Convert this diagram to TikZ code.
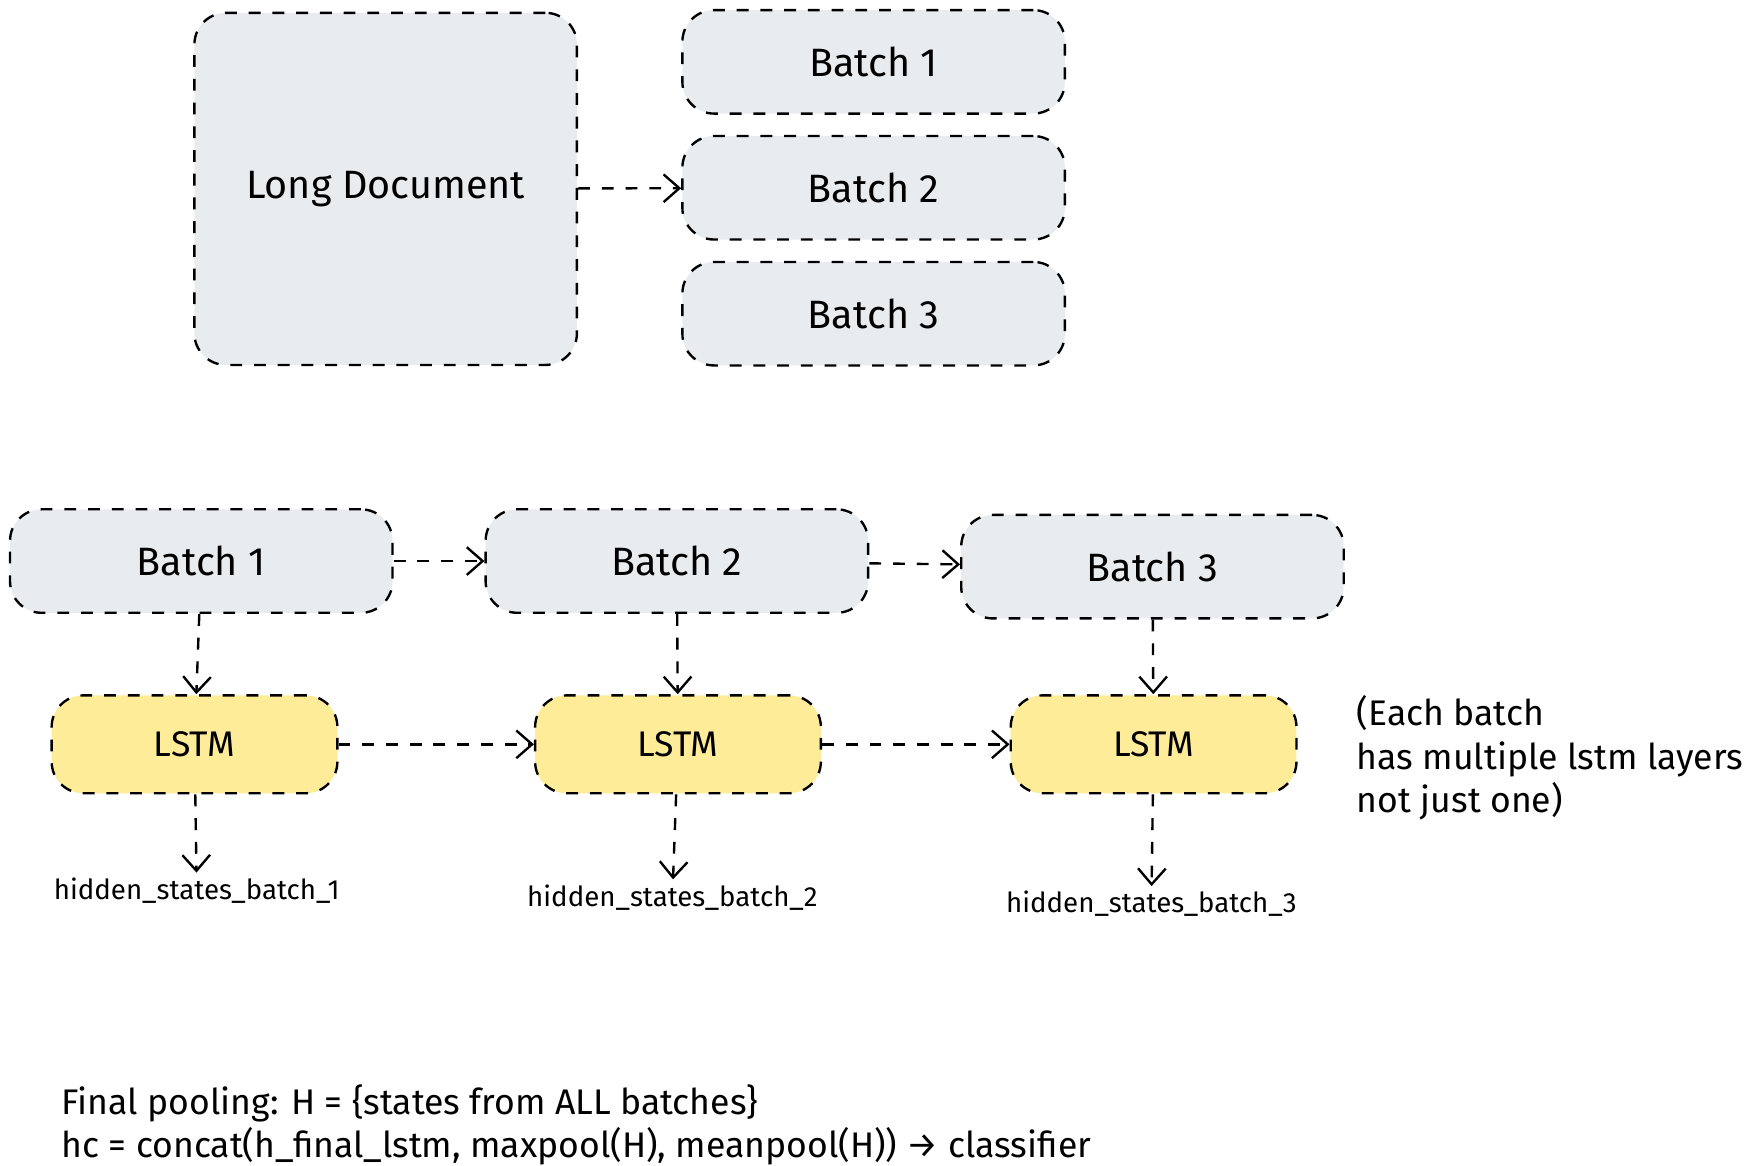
\documentclass[tikz,border=0pt]{standalone}
\usepackage{fontspec}
\setmainfont{Fira Sans}
\usetikzlibrary{arrows.meta,positioning}
\definecolor{boxgrey}{HTML}{E9ECEF}
\definecolor{lstmyellow}{HTML}{FFEC99}
\begin{document}
\begin{tikzpicture}[x=0.01cm,y=-0.01cm,>={Straight Barb[length=4pt,width=7pt]},
                    semithick]
  \tikzset{
    box/.style = {rectangle, rounded corners=8pt, draw, dashed, fill=boxgrey,
      minimum width=3.4cm, minimum height=0.92cm, font=\normalsize},
    lstm/.style = {box, fill=lstmyellow, minimum width=2.54cm,
      minimum height=0.87cm, font=\small},
    link/.style = {->, dashed},
    hidden/.style = {font=\scriptsize, inner sep=1pt}
  }
  \useasboundingbox (0,0) rectangle (1560,1037);
  % top row
  \node[box, minimum width=3.4cm, minimum height=3.13cm] (doc) at (343,168) {Long Document};
  \node[box] (t1) at (777,55)  {Batch 1};
  \node[box] (t2) at (777,167) {Batch 2};
  \node[box] (t3) at (777,279) {Batch 3};
  \draw[link] (doc) -- (t2);
  % batches and lstm
  \node[box] (b1) at (179,499)  {Batch 1};
  \node[box] (b2) at (602,499)  {Batch 2};
  \node[box] (b3) at (1025,504) {Batch 3};
  \node[lstm] (l1) at (173,662)  {LSTM};
  \node[lstm] (l2) at (603,662)  {LSTM};
  \node[lstm] (l3) at (1026,662) {LSTM};
  \node[hidden] (h1) at (175,792)  {hidden\_states\_batch\_1};
  \node[hidden] (h2) at (598,798)  {hidden\_states\_batch\_2};
  \node[hidden] (h3) at (1024,804) {hidden\_states\_batch\_3};
  \draw[link] (b1) -- (b2);
  \draw[link] (b2) -- (b3);
  \draw[link] (l1) -- (l2);
  \draw[link] (l2) -- (l3);
  \foreach \i in {1,2,3} {
    \draw[link] (b\i) -- (l\i);
    \draw[link] (l\i) -- (h\i);
  }
  \node[anchor=north west, align=left, font=\small] (note) at (1194,606)
    {(Each batch\\has multiple lstm layers\\not just one)};
  \node[anchor=north west, align=left, font=\small] (pool) at (42,952)
    {Final pooling: H = \{states from ALL batches\}\\
     hc = concat(h\_final\_lstm, maxpool(H), meanpool(H)) → classifier};
\end{tikzpicture}
\end{document}
